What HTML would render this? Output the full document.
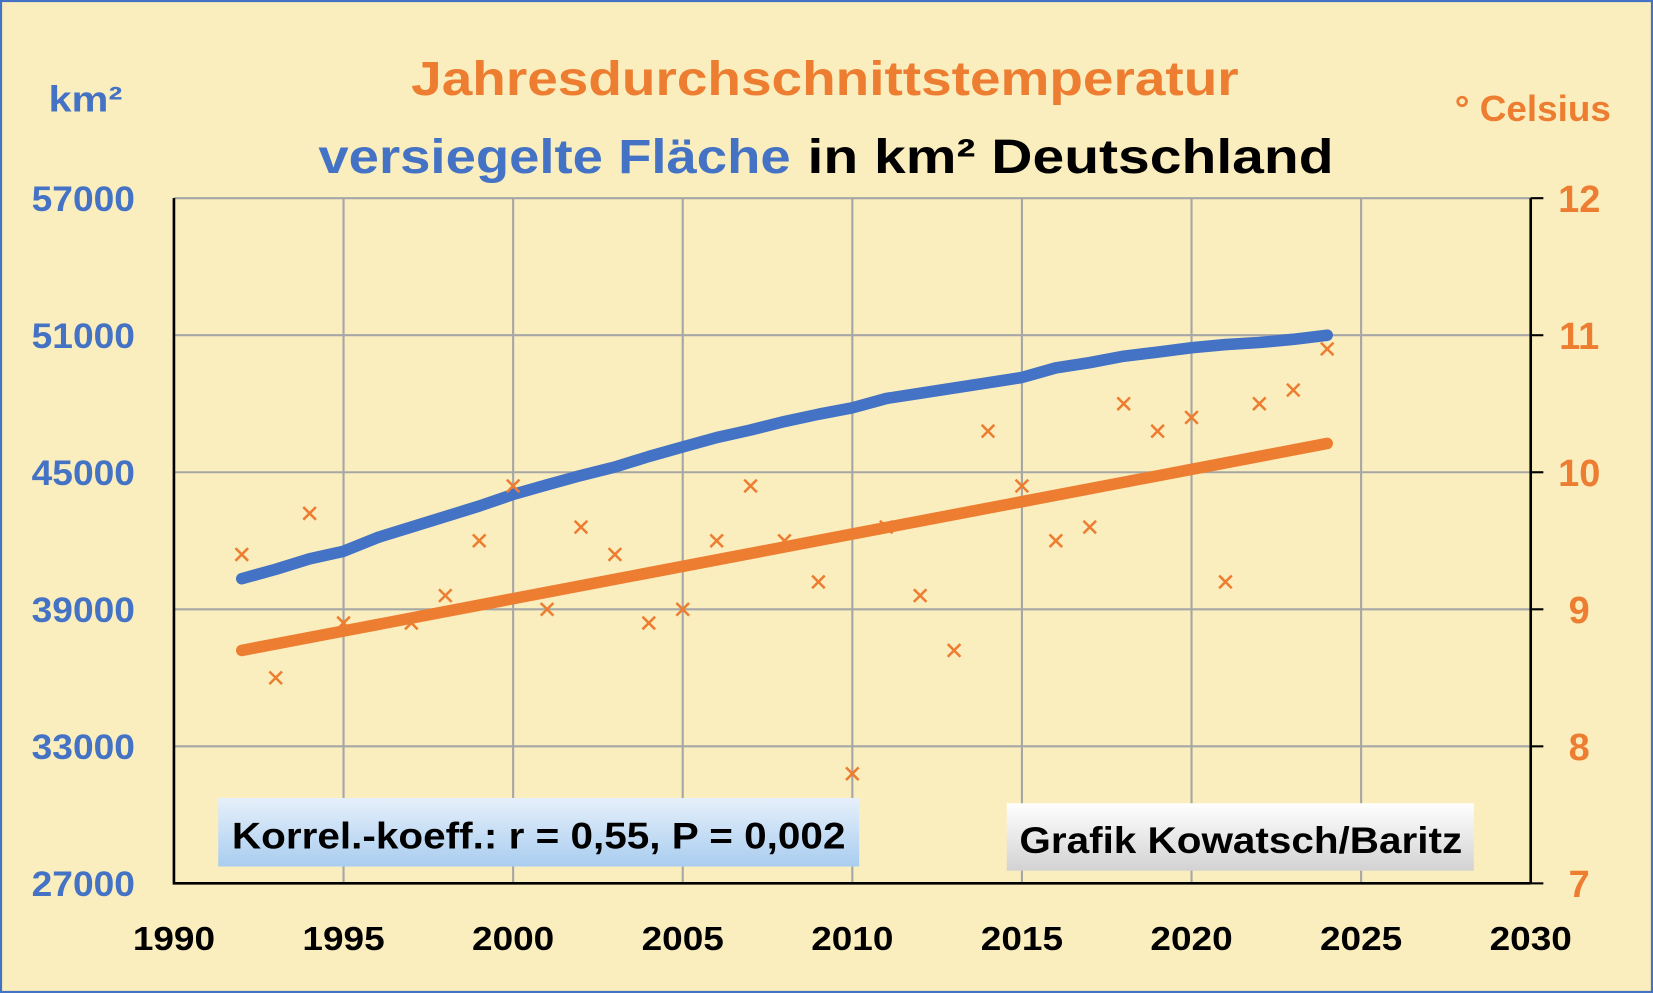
<!DOCTYPE html>
<html><head><meta charset="utf-8"><style>
html,body{margin:0;padding:0;background:#FBEEBE;}
svg{display:block;font-family:"Liberation Sans",sans-serif;font-weight:bold;}
</style></head><body>
<svg id="chart" width="1653" height="993" viewBox="0 0 1568 942" preserveAspectRatio="none" xmlns="http://www.w3.org/2000/svg">
<defs>
<linearGradient id="gb" x1="0" y1="0" x2="0" y2="1"><stop offset="0" stop-color="#e6f0fa"/><stop offset="1" stop-color="#a9cdf0"/></linearGradient>
<linearGradient id="gg" x1="0" y1="0" x2="0" y2="1"><stop offset="0" stop-color="#ffffff"/><stop offset="1" stop-color="#d2d2d2"/></linearGradient>
</defs>
<rect x="1" y="1" width="1566" height="940" fill="#FBEEBE" stroke="#4472C4" stroke-width="2"/>
<g id="grid"></g>
<g id="axes"></g>
<g id="labels"></g>
<text x="390" y="90" font-size="46" fill="#ED7D31" textLength="785" lengthAdjust="spacingAndGlyphs">Jahresdurchschnittstemperatur</text>
<text y="164" font-size="46"><tspan x="302" fill="#4472C4" textLength="448" lengthAdjust="spacingAndGlyphs">versiegelte Fläche</tspan><tspan x="766" fill="#000" textLength="499" lengthAdjust="spacingAndGlyphs">in km²  Deutschland</tspan></text>
<text x="46" y="106" font-size="34" fill="#4472C4" textLength="70" lengthAdjust="spacingAndGlyphs">km²</text>
<text x="1380" y="115" font-size="34" fill="#ED7D31" textLength="148" lengthAdjust="spacingAndGlyphs">° Celsius</text>
<g id="series"></g>
<rect x="207" y="757" width="608" height="65" fill="url(#gb)"/>
<text x="220" y="805" font-size="35" fill="#000" textLength="582" lengthAdjust="spacingAndGlyphs">Korrel.-koeff.: r = 0,55, P = 0,002</text>
<rect x="955" y="762" width="443" height="64" fill="url(#gg)"/>
<text x="967" y="809" font-size="35" fill="#000" textLength="420" lengthAdjust="spacingAndGlyphs">Grafik Kowatsch/Baritz</text>
</svg>
<script>
const years=[1992,1993,1994,1995,1996,1997,1998,1999,2000,2001,2002,2003,2004,2005,2006,2007,2008,2009,2010,2011,2012,2013,2014,2015,2016,2017,2018,2019,2020,2021,2022,2023,2024];
const area=[40340,40750,41210,41540,42140,42600,43060,43520,44030,44450,44860,45230,45690,46110,46520,46850,47220,47540,47820,48230,48460,48690,48920,49150,49570,49800,50080,50260,50450,50590,50680,50820,51000];
const tempYears=[1992,1993,1994,1995,1997,1998,1999,2000,2001,2002,2003,2004,2005,2006,2007,2008,2009,2010,2011,2012,2013,2014,2015,2016,2017,2018,2019,2020,2021,2022,2023,2024];
const temp=[9.4,8.5,9.7,8.9,8.9,9.1,9.5,9.9,9.0,9.6,9.4,8.9,9.0,9.5,9.9,9.5,9.2,7.8,9.6,9.1,8.7,10.3,9.9,9.5,9.6,10.5,10.3,10.4,9.2,10.5,10.6,10.9];
const trendYears=[1992,2024];
const trendValues=[8.7,10.21];
const xTicks=[1990,1995,2000,2005,2010,2015,2020,2025,2030];
const leftTicks=[27000,33000,39000,45000,51000,57000];
const rightTicks=[7,8,9,10,11,12];
const NS="http://www.w3.org/2000/svg";
const X0=165,X1=1452,Y0=838,Y1=188;
const xs=v=>X0+(v-1990)/40*(X1-X0);
const yl=v=>Y0-(v-27000)/30000*(Y0-Y1);
const yr=v=>Y0-(v-7)/5*(Y0-Y1);
function mk(tag,attrs,parent,txt){const e=document.createElementNS(NS,tag);for(const k in attrs)e.setAttribute(k,attrs[k]);if(txt!==undefined)e.textContent=txt;document.getElementById(parent).appendChild(e);return e;}
xTicks.forEach(t=>{
 const l=mk('line',{x1:xs(t),x2:xs(t),y1:Y1,y2:Y0,stroke:'#a6a6a6','stroke-width':2},'grid');
 
 
 const tx=mk('text',{x:xs(t)-39,y:901,'font-size':32,fill:'#000',textLength:78,lengthAdjust:'spacingAndGlyphs'},'labels',String(t));
 
 
});
leftTicks.forEach(t=>{
 const l=mk('line',{x1:X0,x2:X1,y1:yl(t),y2:yl(t),stroke:'#a6a6a6','stroke-width':2},'grid');
 
 
 const tx=mk('text',{x:30,y:yl(t)+12,'font-size':33,fill:'#4472C4',textLength:98,lengthAdjust:'spacingAndGlyphs'},'labels',String(t));
 
 
});
rightTicks.forEach(t=>{
 const l=mk('line',{x1:X1,x2:X1+12,y1:yr(t),y2:yr(t),stroke:'#000','stroke-width':2},'axes');
 
 
 const tx=mk('text',{x:1498,y:yr(t)+13,'text-anchor':'middle','font-size':36,fill:'#ED7D31'},'labels',String(t));
 
 
});
const la=mk('path',{d:`M${X0},${Y1}V${Y0}H${X1}`,stroke:'#000','stroke-width':2.5,fill:'none'},'axes');


const ra=mk('line',{x1:X1,x2:X1,y1:Y1,y2:Y0,stroke:'#000','stroke-width':2.5},'axes');


const tl=mk('line',{x1:xs(trendYears[0]),y1:yr(trendValues[0]),x2:xs(trendYears[1]),y2:yr(trendValues[1]),stroke:'#ED7D31','stroke-width':11,'stroke-linecap':'round'},'series');


const ap=mk('polyline',{points:years.map((y,i)=>xs(y)+','+yl(area[i])).join(' '),stroke:'#4472C4','stroke-width':11,fill:'none','stroke-linecap':'round','stroke-linejoin':'round'},'series');


tempYears.forEach((y,i)=>{
 const cx=xs(y),cy=yr(temp[i]),s=6;
 const m=mk('path',{d:`M${cx-s},${cy-s}L${cx+s},${cy+s}M${cx-s},${cy+s}L${cx+s},${cy-s}`,stroke:'#ED7D31','stroke-width':2.4,fill:'none'},'series');
 
 
});
</script>
</body></html>
